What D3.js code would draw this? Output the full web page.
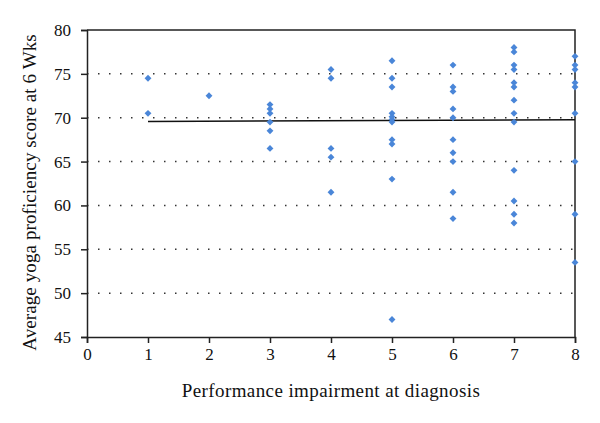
<!DOCTYPE html>
<html>
<head>
<meta charset="utf-8">
<script src="https://cdn.jsdelivr.net/npm/d3@7"></script>
<style>
  body { margin: 0; background: #fff; }
  svg { display: block; }
  .axis text { font-family: "Liberation Serif", "DejaVu Serif", serif; font-size: 17px; fill: #111; }
  .axis path, .axis line { stroke: #222; stroke-width: 1.5; }
</style>
</head>
<body>
<div id="chart"></div>
<script>
// ——— DATA ——————————————————————————————————————————————————————————
const impairment = [1, 2, 3, 4, 5, 6, 7, 8];
const scores1 = [74.5, 70.5];
const scores2 = [72.5];
const scores3 = [71.5, 71, 70.5, 69.5, 68.5, 66.5];
const scores4 = [75.5, 74.5, 66.5, 65.5, 61.5];
const scores5 = [76.5, 74.5, 73.5, 70.5, 70.1, 69.8, 69.5, 67.5, 67, 63, 47];
const scores6 = [76, 73.5, 73, 71, 70, 67.5, 66, 65, 61.5, 58.5];
const scores7 = [78, 77.5, 76, 75.5, 74, 73.5, 72, 70.5, 69.5, 64, 60.5, 59, 58];
const scores8 = [77, 76, 75.5, 74, 73.5, 70.5, 65, 59, 53.5];
const trendX = [1, 8];
const trendY = [69.58, 69.77];
const yTicks = [45, 50, 55, 60, 65, 70, 75, 80];
const gridTicks = [50, 55, 60, 65, 70, 75];

const width = 600;
const height = 423;
const mLeft = 87, mRight = 575, mTop = 30, mBottom = 337;

const svg = d3.select("#chart").append("svg")
    .attr("width", width)
    .attr("height", height);

// ——— SCALES ————————————————————————————————————————————————————————
const xScale = d3.scaleLinear().domain([0, 8]).range([mLeft, mRight]);
const yScale = d3.scaleLinear().domain([45, 80]).range([mBottom, mTop]);

// ——— GRID ——————————————————————————————————————————————————————————
svg.append("g")
    .selectAll("line")
    .data(gridTicks)
    .enter()
    .append("line")
    .attr("x1", mLeft)
    .attr("x2", mRight)
    .attr("y1", (d) => yScale(d))
    .attr("y2", (d) => yScale(d))
    .attr("stroke", "#333")
    .attr("stroke-width", 1.5)
    .attr("stroke-dasharray", "1.5,9.5");

// ——— FRAME (top + right) ———————————————————————————————————————————
svg.append("path")
    .attr("d", `M${mLeft},${mTop}H${mRight}V${mBottom}`)
    .attr("fill", "none")
    .attr("stroke", "#222")
    .attr("stroke-width", 1.5);

// ——— AXES ——————————————————————————————————————————————————————————
const xaxis = d3.axisBottom(xScale)
    .ticks(8)
    .tickSizeOuter(6)
    .tickSize(6)
    .tickPadding(5)
    .tickFormat(d3.format("d"));

const yaxis = d3.axisLeft(yScale)
    .tickValues(yTicks)
    .tickSize(6)
    .tickSizeOuter(6)
    .tickPadding(10);

svg.append("g")
    .attr("class", "axis")
    .attr("transform", `translate(0,${mBottom})`)
    .call(xaxis);

svg.append("g")
    .attr("class", "axis")
    .attr("transform", `translate(${mLeft},0)`)
    .call(yaxis);

// axis titles
svg.append("text")
    .attr("x", (mLeft + mRight) / 2 + 0)
    .attr("y", 397)
    .attr("text-anchor", "middle")
    .style("font-family", "'Liberation Serif', 'DejaVu Serif', serif")
    .style("font-size", "19px")
    .style("letter-spacing", "0.4px")
    .style("fill", "#111")
    .text("Performance impairment at diagnosis");

svg.append("text")
    .attr("transform", `translate(36,${(mTop + mBottom) / 2 + 9}) rotate(-90)`)
    .attr("text-anchor", "middle")
    .style("font-family", "'Liberation Serif', 'DejaVu Serif', serif")
    .style("font-size", "19px")
    .style("letter-spacing", "0.1px")
    .style("fill", "#111")
    .text("Average yoga proficiency score at 6 Wks");

// ——— TREND LINE ————————————————————————————————————————————————————
const line = d3.line()
    .x((d) => xScale(d[0]))
    .y((d) => yScale(d[1]));

svg.append("path")
    .attr("d", line(d3.zip(trendX, trendY)))
    .attr("fill", "none")
    .attr("stroke", "#111")
    .attr("stroke-width", 1.5);

// ——— POINTS ————————————————————————————————————————————————————————
const groups = [scores1, scores2, scores3, scores4, scores5, scores6, scores7, scores8];
const points = [];
groups.forEach((vals, i) => {
    vals.forEach((v) => points.push({ x: impairment[i], y: v }));
});

const diamond = d3.symbol().type(d3.symbolDiamond2).size(30);

svg.append("g")
    .selectAll("path")
    .data(points)
    .enter()
    .append("path")
    .attr("transform", (d) => `translate(${xScale(d.x)},${yScale(d.y)})`)
    .attr("d", diamond)
    .attr("fill", "#4a86d8");
</script>
</body>
</html>
